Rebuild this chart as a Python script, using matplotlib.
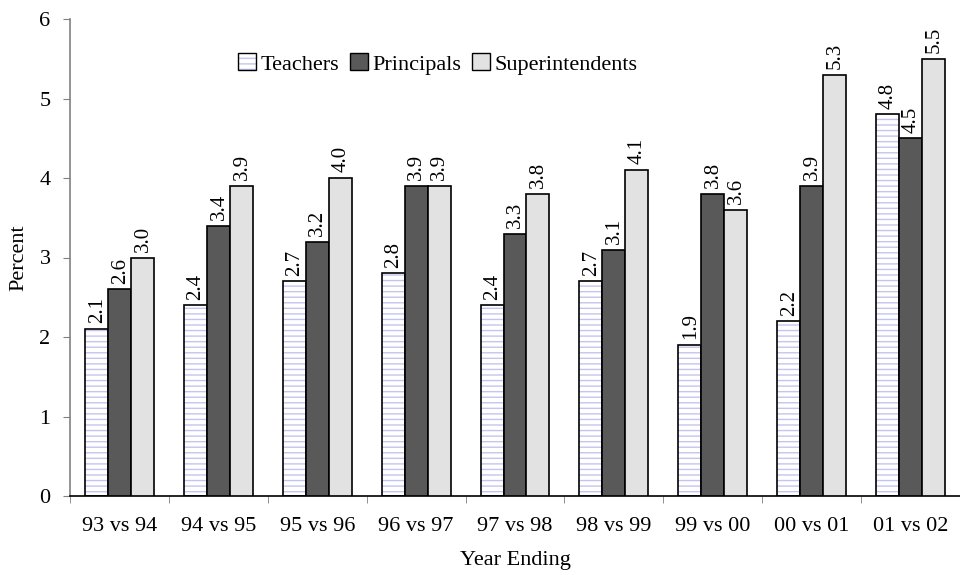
import matplotlib
matplotlib.use("Agg")
import matplotlib.pyplot as plt
import numpy as np
from matplotlib.patches import Patch

categories = ["93 vs 94", "94 vs 95", "95 vs 96", "96 vs 97", "97 vs 98",
              "98 vs 99", "99 vs 00", "00 vs 01", "01 vs 02"]
teachers = [2.1, 2.4, 2.7, 2.8, 2.4, 2.7, 1.9, 2.2, 4.8]
principals = [2.6, 3.4, 3.2, 3.9, 3.3, 3.1, 3.8, 3.9, 4.5]
superintendents = [3.0, 3.9, 4.0, 3.9, 3.8, 4.1, 3.6, 5.3, 5.5]
yticks = [0, 1, 2, 3, 4, 5, 6]

plt.rcParams['font.family'] = ['Liberation Serif', 'DejaVu Serif']
plt.rcParams['hatch.linewidth'] = 1.0

fig = plt.figure(figsize=(9.6, 5.75), dpi=100)
W, H = 960, 575
left, right, top, bottom = 70, 960, 19, 496
ax = fig.add_axes([left / W, 1 - bottom / H, (right - left) / W, (bottom - top) / H])

x = np.arange(len(categories))
bw = 0.232
hatch_col = '#c4c4f0'
edge_lw = 1.2

ax.bar(x - bw, teachers, bw, color='white', edgecolor=hatch_col, hatch='---', linewidth=0, zorder=2)
ax.bar(x - bw, teachers, bw, fill=False, edgecolor='black', linewidth=edge_lw, zorder=3)
ax.bar(x, principals, bw, color='#595959', edgecolor='black', linewidth=edge_lw, zorder=3)
ax.bar(x + bw, superintendents, bw, color='#e2e2e2', edgecolor='black', linewidth=edge_lw, zorder=3)

fs = 16
for xs, vals in [(x - bw, teachers), (x, principals), (x + bw, superintendents)]:
    for xi, v in zip(xs, vals):
        ax.annotate(f"{v:.1f}", (xi, v), xytext=(0.5, 4), textcoords='offset points',
                    rotation=90, ha='center', va='bottom', fontsize=15)

ax.set_xlim(-0.5, -0.5 + (right - left) / 99.75)
ax.set_ylim(0, 6)
ax.set_yticks(yticks)
ax.set_yticklabels([str(t) for t in yticks], fontsize=fs)
ax.set_xticks(x)
ax.set_xticklabels(categories, fontsize=fs)
ax.set_xticks(np.arange(len(categories) + 1) - 0.5, minor=True)
ax.tick_params(axis='x', which='major', length=0, pad=15)
ax.tick_params(axis='x', which='minor', length=5, color='#808080', direction='out')
ax.tick_params(axis='y', length=5, color='#808080', direction='out', pad=9)

for s in ['top', 'right']:
    ax.spines[s].set_visible(False)
ax.spines['left'].set_color('#808080')
ax.spines['left'].set_linewidth(1.2)
ax.spines['bottom'].set_color('black')
ax.spines['bottom'].set_linewidth(1.2)

ax.set_ylabel("Percent", fontsize=fs, labelpad=8)
ax.set_xlabel("Year Ending", fontsize=fs, labelpad=11)

t_fill = Patch(facecolor='white', edgecolor=hatch_col, hatch='---', linewidth=0)
t_edge = Patch(facecolor='none', edgecolor='black', linewidth=1.0)
handles = [(t_fill, t_edge),
           Patch(facecolor='#595959', edgecolor='black', linewidth=1.0),
           Patch(facecolor='#e2e2e2', edgecolor='black', linewidth=1.0)]
leg = fig.legend(handles, ["Teachers", "Principals", "Superintendents"],
                 loc='center', bbox_to_anchor=(438 / W, 1 - 64 / H), ncol=3,
                 frameon=False, fontsize=fs, handlelength=0.8, handleheight=0.8,
                 handletextpad=0.2, columnspacing=0.5)

fig.savefig("out.png", dpi=100)
